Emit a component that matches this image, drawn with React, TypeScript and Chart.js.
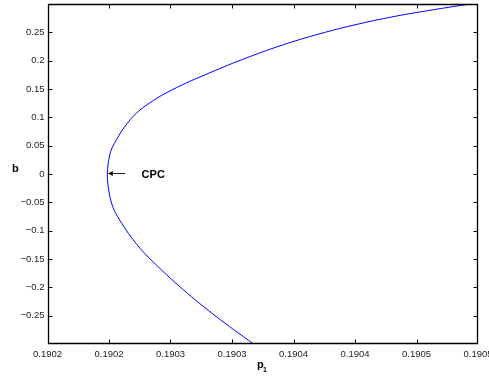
import React, { useEffect, useRef } from 'react';
import { Chart, registerables } from 'chart.js';

Chart.register(...registerables);

// Curve, from the lower end up to the upper end
const p1Values = [
  0.1903673, 0.1903511, 0.1903376, 0.190324, 0.1903104, 0.1902969,
  0.1902793, 0.190272, 0.1902657, 0.1902589, 0.1902549, 0.190252, 0.19025,
  0.190249, 0.1902486,
  0.1902492, 0.1902504, 0.1902524, 0.1902563, 0.1902603, 0.1902649, 0.1902695,
  0.1902752, 0.1902817, 0.1902888, 0.1902963, 0.190305, 0.1903142, 0.190324,
  0.1903402, 0.1903538, 0.1903782, 0.1904053, 0.1904324, 0.1904595, 0.1904866,
  0.1905137, 0.1905421,
];
const bValues = [
  -0.2996, -0.2742, -0.2523, -0.229, -0.2043, -0.178,
  -0.1409, -0.1226, -0.1046, -0.0821, -0.0671, -0.0512, -0.0318,
  -0.0159, 0.0,
  0.0159, 0.0318, 0.0459, 0.0612, 0.0759, 0.0895, 0.1015,
  0.1129, 0.1235, 0.1336, 0.1429, 0.1526, 0.162, 0.1713,
  0.1862, 0.1982, 0.2181, 0.2375, 0.2539, 0.268, 0.2799,
  0.2899, 0.2995,
];

const xTickValues = [0.1902, 0.19025, 0.1903, 0.19035, 0.1904, 0.19045, 0.1905, 0.19055];
const xTickLabels = ['0.1902', '0.1902', '0.1903', '0.1903', '0.1904', '0.1904', '0.1905', '0.1905'];
const yTickValues = [-0.25, -0.2, -0.15, -0.1, -0.05, 0, 0.05, 0.1, 0.15, 0.2, 0.25];
const yTickLabels = [
  '\u22120.25', '\u22120.2', '\u22120.15', '\u22120.1', '\u22120.05', '0',
  '0.05', '0.1', '0.15', '0.2', '0.25',
];
const xMin = 0.1902;
const xMax = 0.19055;
const yMin = -0.3;
const yMax = 0.3;

const xTitle = 'p';
const xTitleSub = '1';
const yTitle = 'b';

// CPC annotation (arrow tip, arrow tail, label position) in data units
const cpcLabel = 'CPC';
const cpcTip = [0.1902491, 0];
const cpcTail = [0.1902631, 0];
const cpcText = [0.1902765, 0];

const FONT = '"Liberation Sans", Arial, Helvetica, sans-serif';

const framePlugin = {
  id: 'matlabFrame',
  afterDraw(chart: any) {
    const { ctx, chartArea } = chart;
    const { left, right, top, bottom } = chartArea;
    const xs = chart.scales.x;
    const ys = chart.scales.y;
    ctx.save();
    ctx.strokeStyle = '#000';
    ctx.lineWidth = 1.3;
    const L = Math.round(left) + 0.5;
    const R = Math.round(right) - 0.5;
    const T = Math.round(top) + 0.5;
    const B = Math.round(bottom) - 0.5;
    ctx.beginPath();
    ctx.rect(L, T, R - L, B - T);
    ctx.stroke();
    ctx.lineWidth = 1;
    const tl = 4;
    ctx.beginPath();
    xTickValues.forEach((v) => {
      const px = Math.round(xs.getPixelForValue(v)) + 0.5;
      if (px > R - 1) return;
      ctx.moveTo(px, B);
      ctx.lineTo(px, B - tl);
      ctx.moveTo(px, T);
      ctx.lineTo(px, T + tl);
    });
    yTickValues.forEach((v) => {
      const py = Math.round(ys.getPixelForValue(v)) + 0.5;
      ctx.moveTo(L, py);
      ctx.lineTo(L + tl, py);
      ctx.moveTo(R, py);
      ctx.lineTo(R - tl, py);
    });
    ctx.stroke();

    // annotation arrow
    const tx = xs.getPixelForValue(cpcTip[0]);
    const ty = ys.getPixelForValue(cpcTip[1]) - 0.5;
    const ax = xs.getPixelForValue(cpcTail[0]);
    ctx.strokeStyle = '#222';
    ctx.fillStyle = '#111';
    ctx.beginPath();
    ctx.moveTo(ax, ty);
    ctx.lineTo(tx + 3, ty);
    ctx.stroke();
    ctx.beginPath();
    ctx.moveTo(tx, ty);
    ctx.lineTo(tx + 5, ty - 2.5);
    ctx.lineTo(tx + 5, ty + 2.5);
    ctx.closePath();
    ctx.fill();

    ctx.fillStyle = '#000';
    ctx.font = `bold 11px ${FONT}`;
    ctx.textAlign = 'left';
    ctx.textBaseline = 'alphabetic';
    ctx.fillText(cpcLabel, xs.getPixelForValue(cpcText[0]), ys.getPixelForValue(cpcText[1]) + 4);

    // axis titles
    ctx.fillText(yTitle, 12, 172);
    ctx.fillText(xTitle, 257, 368);
    ctx.font = `bold 7px ${FONT}`;
    ctx.fillText(xTitleSub, 263, 372);
    ctx.restore();
  },
};

export default function App() {
  const ref = useRef<HTMLCanvasElement | null>(null);
  useEffect(() => {
    if (!ref.current) return;
    const points = p1Values.map((p, i) => ({ x: p, y: bValues[i] }));
    const chart = new Chart(ref.current, {
      type: 'scatter',
      data: {
        datasets: [
          {
            data: points,
            showLine: true,
            borderColor: '#0000ff',
            backgroundColor: '#0000ff',
            borderWidth: 1,
            pointRadius: 0,
            tension: 0.3,
          },
        ],
      },
      options: {
        responsive: false,
        animation: false,
        devicePixelRatio: 1,
        layout: { padding: { left: 0, top: 4, right: 11, bottom: 0 } },
        plugins: { legend: { display: false }, tooltip: { enabled: false } },
        scales: {
          x: {
            type: 'linear',
            min: xMin,
            max: xMax,
            grid: { display: false, drawTicks: false },
            border: { display: false },
            afterBuildTicks: (s: any) => {
              s.ticks = xTickValues.map((value) => ({ value }));
            },
            afterFit: (s: any) => {
              s.height = 34;
              s.paddingLeft = 0;
              s.paddingRight = 0;
            },
            ticks: {
              autoSkip: false,
              maxRotation: 0,
              minRotation: 0,
              padding: 5,
              color: '#222',
              font: { family: FONT, size: 9.5 },
              callback: (_v: any, i: number) => xTickLabels[i],
            },
          },
          y: {
            type: 'linear',
            min: yMin,
            max: yMax,
            grid: { display: false, drawTicks: false },
            border: { display: false },
            afterBuildTicks: (s: any) => {
              s.ticks = yTickValues.map((value) => ({ value }));
            },
            afterFit: (s: any) => {
              s.width = 47.5;
              s.paddingTop = 0;
              s.paddingBottom = 0;
            },
            ticks: {
              autoSkip: false,
              padding: 3,
              color: '#222',
              font: { family: FONT, size: 9.5 },
              callback: (_v: any, i: number) => yTickLabels[i],
            },
          },
        },
      },
      plugins: [framePlugin],
    });
    return () => chart.destroy();
  }, []);
  return (
    <div style={{ position: 'absolute', left: 0, top: 0, width: 489, height: 378, background: '#fff' }}>
      <canvas ref={ref} width={489} height={378} style={{ display: 'block' }} />
    </div>
  );
}
